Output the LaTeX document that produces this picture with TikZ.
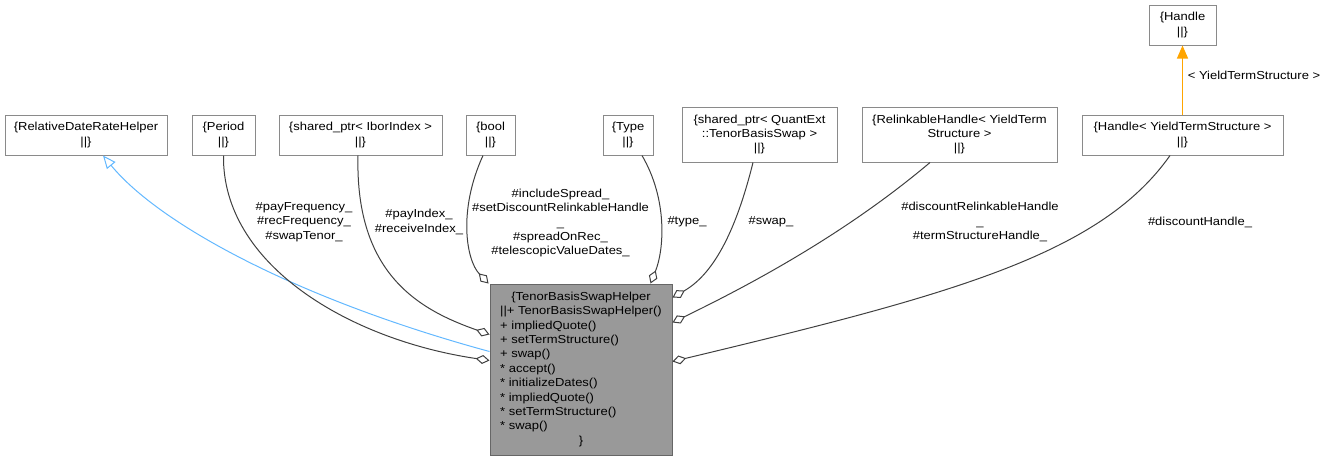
\documentclass[tikz,border=0pt]{standalone}
\usepackage{fontspec}
\setmainfont{Liberation Sans}[FakeStretch=1.12]
\usetikzlibrary{arrows.meta,calc}
\definecolor{edgegray}{HTML}{404040}
\definecolor{boxborder}{HTML}{8A8A8A}
\definecolor{mainfill}{HTML}{999999}
\definecolor{mainborder}{HTML}{666666}
\definecolor{inhblue}{HTML}{63B8FF}
\definecolor{tmplorange}{HTML}{FFA500}
\newcommand{\dfont}{\fontsize{11.6}{14.4}\selectfont}
\tikzset{
  cls/.style={draw=boxborder, fill=white, line width=1pt, rectangle, inner sep=0pt, align=center, font=\dfont},
  mainbox/.style={draw=mainborder, fill=mainfill, line width=1pt, rectangle, inner sep=0pt, font=\dfont},
  lbl/.style={align=center, inner sep=0pt, font=\dfont},
  agg/.style={draw=edgegray, line width=1pt, -{Diamond[open,length=14pt,width=9pt]}},
  inh/.style={draw=inhblue, line width=1pt, -{Triangle[open,length=13pt,width=11pt]}},
  tmpl/.style={draw=tmplorange, line width=1.2pt, -{Triangle[length=13pt,width=11pt]}},
}
\begin{document}
\begin{tikzpicture}[x=1pt,y=-1pt]
\useasboundingbox (0,0) rectangle (1328,461);
% class nodes
\node[cls, minimum width=162pt, minimum height=40pt] (rdrh) at (86,135) {\{RelativeDateRateHelper\\||\}};
\node[cls, minimum width=63pt, minimum height=40pt] (period) at (223.5,135) {\{Period\\||\}};
\node[cls, minimum width=163pt, minimum height=40pt] (ibor) at (360.5,135) {\{shared\_ptr< IborIndex >\\||\}};
\node[cls, minimum width=49pt, minimum height=40pt] (bool) at (490.5,135) {\{bool\\||\}};
\node[cls, minimum width=50pt, minimum height=40pt] (type) at (628,135) {\{Type\\||\}};
\node[cls, minimum width=155pt, minimum height=55pt] (tbs) at (759.5,134.5) {\{shared\_ptr< QuantExt\\::TenorBasisSwap >\\||\}};
\node[cls, minimum width=195pt, minimum height=55pt] (relink) at (959.5,134.5) {\{RelinkableHandle< YieldTerm\\Structure >\\||\}};
\node[cls, minimum width=201pt, minimum height=40pt] (hyts) at (1182.5,135) {\{Handle< YieldTermStructure >\\||\}};
\node[cls, minimum width=67pt, minimum height=40pt] (handle) at (1182.5,25) {\{Handle\\||\}};
\node[mainbox, minimum width=182pt, minimum height=171pt] (main) at (581,369.5) {%
\begin{tabular}{@{}l@{}}
\multicolumn{1}{@{}c@{}}{\{TenorBasisSwapHelper}\\
||+ TenorBasisSwapHelper()\\
+ impliedQuote()\\
+ setTermStructure()\\
+ swap()\\
{*} accept()\\
{*} initializeDates()\\
{*} impliedQuote()\\
{*} setTermStructure()\\
{*} swap()\\
\multicolumn{1}{@{}c@{}}{\}}
\end{tabular}};
% inheritance
\draw[inh] ([yshift=-68pt]main.north west) .. controls (300,300) and (160,225) .. ([xshift=17pt]rdrh.south);
% template instantiation
\draw[tmpl] (hyts.north) -- (handle.south);
\node[lbl] (tlbl) at (1254,75) {< YieldTermStructure >};
% aggregations
\draw[agg] (period.south) .. controls (222,265) and (350,340) .. ([yshift=-77pt]main.north west);
\draw[agg] ([xshift=-2.5pt]ibor.south) .. controls (355,275) and (420,310) .. ([yshift=-51pt]main.north west);
\draw[agg] ([xshift=-7.5pt]bool.south) .. controls (458,210) and (466,260) .. ([xshift=-1pt]main.north west);
\draw[agg] ([xshift=14pt]type.south) .. controls (668,200) and (664,250) .. ([xshift=-22pt]main.north east);
\draw[agg] ([xshift=-6.5pt]tbs.south) .. controls (735,235) and (712,275) .. ([yshift=-14pt]main.north east);
\draw[agg] ([xshift=-29.5pt]relink.south) .. controls (850,230) and (760,280) .. ([yshift=-39pt]main.north east);
\draw[agg] ([xshift=-12.5pt]hyts.south) .. controls (1100,255) and (950,295) .. ([yshift=-78pt]main.north east);
% edge labels
\node[lbl] (l1) at (304,222) {\#payFrequency\_\\\#recFrequency\_\\\#swapTenor\_};
\node[lbl] (l2) at (419,222) {\#payIndex\_\\\#receiveIndex\_};
\node[lbl] (l3) at (560.5,223) {\#includeSpread\_\\\#setDiscountRelinkableHandle\\\_\\\#spreadOnRec\_\\\#telescopicValueDates\_};
\node[lbl] (l4) at (687,222) {\#type\_};
\node[lbl] (l5) at (771,222) {\#swap\_};
\node[lbl] (l6) at (980,222) {\#discountRelinkableHandle\\\_\\\#termStructureHandle\_};
\node[lbl] (l7) at (1200,222) {\#discountHandle\_};
\end{tikzpicture}
\end{document}
